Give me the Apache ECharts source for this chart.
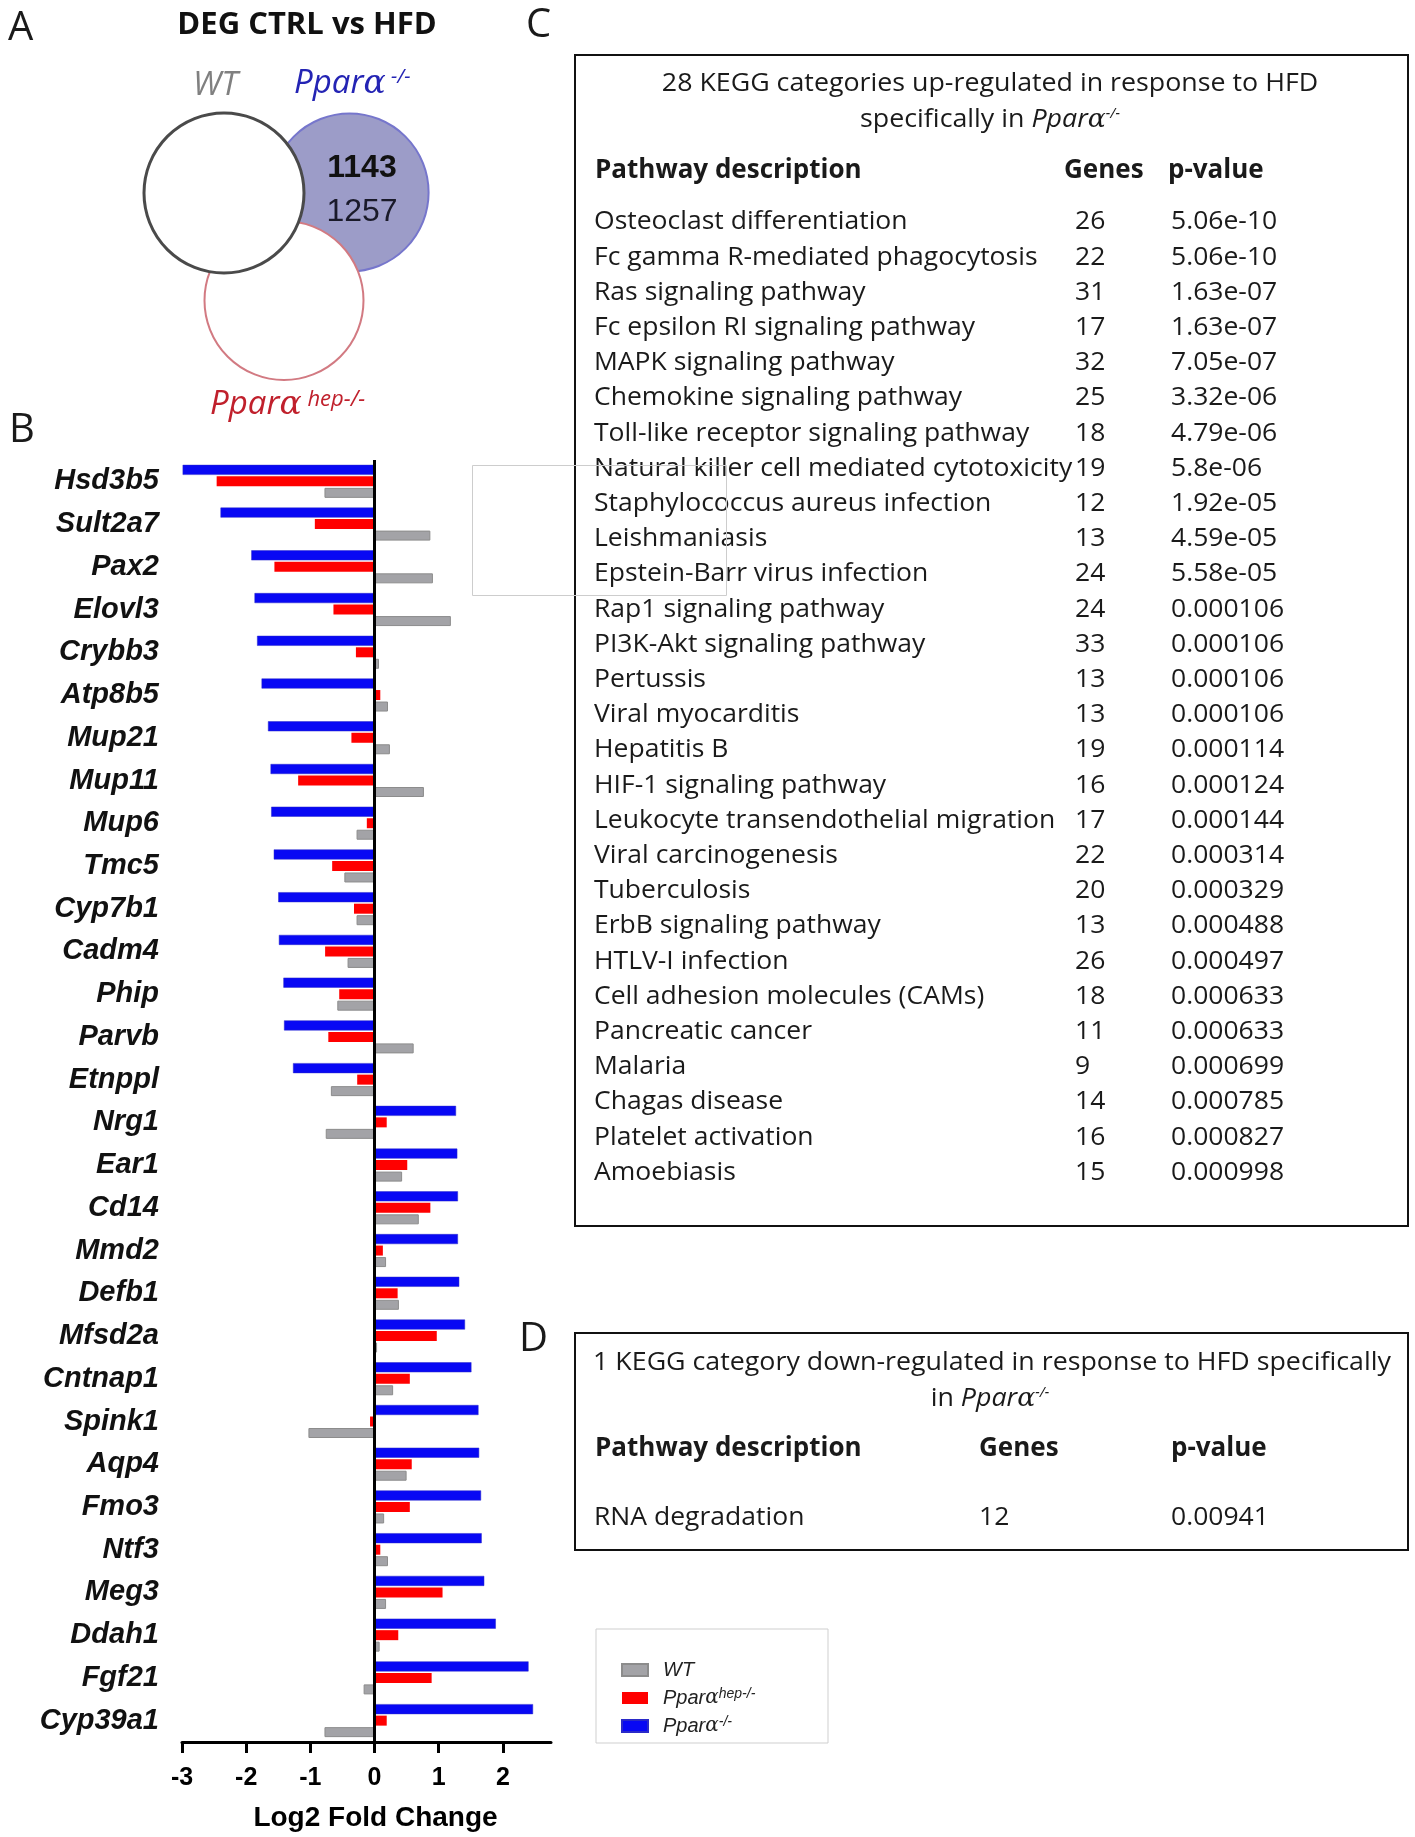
<!DOCTYPE html>
<html>
<head>
<meta charset="utf-8">
<script src="https://cdn.jsdelivr.net/npm/echarts@6/dist/echarts.min.js"></script>
<style>
html, body { margin: 0; padding: 0; background: #fff; }
#main { width: 1415px; height: 1837px; }
</style>
</head>
<body>
<div id="main"></div>
<script>
// panel B data (log2 fold change, CTRL vs HFD)
var genes = ['Hsd3b5','Sult2a7','Pax2','Elovl3','Crybb3','Atp8b5','Mup21','Mup11','Mup6','Tmc5',
  'Cyp7b1','Cadm4','Phip','Parvb','Etnppl','Nrg1','Ear1','Cd14','Mmd2','Defb1',
  'Mfsd2a','Cntnap1','Spink1','Aqp4','Fmo3','Ntf3','Meg3','Ddah1','Fgf21','Cyp39a1'];
var koFC = [-2.99,-2.40,-1.92,-1.87,-1.83,-1.76,-1.66,-1.62,-1.61,-1.57,
  -1.50,-1.49,-1.42,-1.41,-1.27,1.27,1.29,1.30,1.30,1.32,
  1.41,1.51,1.62,1.63,1.66,1.67,1.71,1.89,2.40,2.47];
var hepFC = [-2.46,-0.93,-1.56,-0.64,-0.29,0.09,-0.36,-1.19,-0.12,-0.66,
  -0.32,-0.77,-0.55,-0.72,-0.27,0.19,0.51,0.87,0.13,0.36,
  0.97,0.55,-0.07,0.58,0.55,0.09,1.06,0.37,0.89,0.19];
var wtFC = [-0.78,0.87,0.91,1.19,0.07,0.21,0.24,0.77,-0.28,-0.47,
  -0.28,-0.42,-0.58,0.61,-0.68,-0.76,0.43,0.69,0.18,0.38,
  0.04,0.29,-1.03,0.50,0.15,0.21,0.18,0.08,-0.17,-0.78];
var xTicks = [-3, -2, -1, 0, 1, 2];

// panel A
var vennCounts = [1143, 1257];

// panel C
var pathwaysUp = ['Osteoclast differentiation','Fc gamma R-mediated phagocytosis','Ras signaling pathway',
  'Fc epsilon RI signaling pathway','MAPK signaling pathway','Chemokine signaling pathway',
  'Toll-like receptor signaling pathway','Natural killer cell mediated cytotoxicity',
  'Staphylococcus aureus infection','Leishmaniasis','Epstein-Barr virus infection',
  'Rap1 signaling pathway','PI3K-Akt signaling pathway','Pertussis','Viral myocarditis',
  'Hepatitis B','HIF-1 signaling pathway','Leukocyte transendothelial migration',
  'Viral carcinogenesis','Tuberculosis','ErbB signaling pathway','HTLV-I infection',
  'Cell adhesion molecules (CAMs)','Pancreatic cancer','Malaria','Chagas disease',
  'Platelet activation','Amoebiasis'];
var genesUp = [26,22,31,17,32,25,18,19,12,13,24,24,33,13,13,19,16,17,22,20,13,26,18,11,9,14,16,15];
var pvalUp = ['5.06e-10','5.06e-10','1.63e-07','1.63e-07','7.05e-07','3.32e-06','4.79e-06','5.8e-06',
  '1.92e-05','4.59e-05','5.58e-05','0.000106','0.000106','0.000106','0.000106','0.000114',
  '0.000124','0.000144','0.000314','0.000329','0.000488','0.000497','0.000633','0.000633',
  '0.000699','0.000785','0.000827','0.000998'];

// panel D
var pathwaysDown = ['RNA degradation'];
var genesDown = [12];
var pvalDown = ['0.00941'];

var TF = '"Open Sans", "Noto Sans", sans-serif';
var AF = '"Liberation Sans", Arial, sans-serif';
var ink = '#1a1a1a';

function txt(x, y, text, o) {
  o = o || {};
  return {
    type: 'text', x: x, y: y, z: 50, scaleX: o.sx || 1,
    style: {
      text: text,
      fontSize: o.size || 26,
      fontFamily: o.family || TF,
      fontWeight: o.weight || 'normal',
      fontStyle: o.italic ? 'italic' : 'normal',
      fill: o.color || ink,
      align: o.align || 'left', textAlign: o.align || 'left',
      verticalAlign: 'middle', textVerticalAlign: 'middle',
      rich: o.rich
    }
  };
}

var supRich = function (size, color, supSize) {
  return {
    n: { fontSize: size, fontFamily: TF, fill: color, color: color },
    i: { fontSize: size, fontFamily: TF, fontStyle: 'italic', fill: color, color: color },
    a: { fontSize: size, fontFamily: '"DejaVu Serif", serif', fontStyle: 'italic', fill: color, color: color },
    s: { fontSize: supSize || Math.round(size * 0.55), fontFamily: TF, fontStyle: 'italic', fill: color, color: color, verticalAlign: 'top' }
  };
};

var graphics = [];
// panel letters
graphics.push(txt(8, 29, 'A', { size: 40 }));
graphics.push(txt(9, 431, 'B', { size: 40 }));
graphics.push(txt(526, 26, 'C', { size: 40 }));
graphics.push(txt(519, 1340, 'D', { size: 40 }));

// panel A venn
graphics.push(txt(307, 25, 'DEG CTRL vs HFD', { size: 31, weight: 'bold', align: 'center', color: '#111' }));
graphics.push({ type: 'circle', z: 20, shape: { cx: 349.6, cy: 192.5, r: 79 },
  style: { fill: '#9c9cc8', stroke: '#7676cc', lineWidth: 2 } });
graphics.push({ type: 'circle', z: 21, shape: { cx: 284, cy: 300.5, r: 79.5 },
  style: { fill: '#fff', stroke: '#d27a82', lineWidth: 2 } });
graphics.push({ type: 'circle', z: 22, shape: { cx: 224, cy: 193, r: 80 },
  style: { fill: '#fff', stroke: '#4a4a4a', lineWidth: 3 } });
graphics.push(txt(362, 168, String(vennCounts[0]), { size: 32, family: AF, weight: 'bold', align: 'center', color: '#111' }));
graphics.push(txt(362, 212, String(vennCounts[1]), { size: 32, family: AF, align: 'center', color: '#1a1a2a' }));
graphics.push(txt(193, 86, 'WT', { size: 33, italic: true, color: '#808080' }));
graphics.push(txt(294, 84, '{i|Ppar}{a|α}{s| -/-}', { rich: supRich(33, '#2424b4', 20) }));
graphics.push(txt(210, 405, '{i|Ppar}{a|α}{s| hep-/-}', { rich: supRich(33, '#c0202c', 22) }));

// panel C table
graphics.push({ type: 'rect', z: 30, shape: { x: 575, y: 55, width: 833, height: 1171 },
  style: { fill: 'none', stroke: '#111', lineWidth: 2 } });
graphics.push(txt(990, 84, '28 KEGG categories up-regulated in response to HFD', { align: 'center', sx: 1.03 }));
graphics.push(txt(990, 120, '{n|specifically in }{i|Ppar}{a|α}{s|-/-}', { align: 'center', sx: 1.03, rich: supRich(26, ink) }));
graphics.push(txt(595, 171, 'Pathway description', { weight: 'bold' }));
graphics.push(txt(1064, 171, 'Genes', { weight: 'bold' }));
graphics.push(txt(1168, 171, 'p-value', { weight: 'bold' }));
pathwaysUp.forEach(function (p, i) {
  var y = 222 + i * 35.2;
  graphics.push(txt(594, y, p, { sx: 1.02 }));
  graphics.push(txt(1075, y, String(genesUp[i]), { sx: 1.02 }));
  graphics.push(txt(1171, y, pvalUp[i], { sx: 1.02 }));
});

// panel D table
graphics.push({ type: 'rect', z: 30, shape: { x: 575, y: 1333, width: 833, height: 217 },
  style: { fill: 'none', stroke: '#111', lineWidth: 2 } });
graphics.push(txt(992, 1363, '1 KEGG category down-regulated in response to HFD specifically', { align: 'center', sx: 1.03 }));
graphics.push(txt(990, 1399, '{n|in }{i|Ppar}{a|α}{s|-/-}', { align: 'center', sx: 1.03, rich: supRich(26, ink) }));
graphics.push(txt(595, 1449, 'Pathway description', { weight: 'bold' }));
graphics.push(txt(979, 1449, 'Genes', { weight: 'bold' }));
graphics.push(txt(1171, 1449, 'p-value', { weight: 'bold' }));
pathwaysDown.forEach(function (p, i) {
  var y = 1518 + i * 35.2;
  graphics.push(txt(594, y, p, { sx: 1.02 }));
  graphics.push(txt(979, y, String(genesDown[i]), { sx: 1.02 }));
  graphics.push(txt(1171, y, pvalDown[i], { sx: 1.02 }));
});

// legend box and stray frame
graphics.push({ type: 'rect', z: 30, shape: { x: 596, y: 1629, width: 232, height: 114 },
  style: { fill: 'none', stroke: '#cfcfcf', lineWidth: 1 } });
graphics.push({ type: 'rect', z: 60, shape: { x: 472.5, y: 465.5, width: 254, height: 130 },
  style: { fill: 'none', stroke: '#cdcdcd', lineWidth: 1 } });

var legendRich = {
  i: { fontSize: 20, fontFamily: AF, fontStyle: 'italic', color: '#222' },
  a: { fontSize: 20, fontFamily: '"DejaVu Serif", serif', fontStyle: 'italic', color: '#222' },
  s: { fontSize: 14, fontFamily: AF, fontStyle: 'italic', color: '#222', verticalAlign: 'top' }
};

var chart = echarts.init(document.getElementById('main'));
chart.setOption({
  backgroundColor: '#fff',
  animation: false,
  graphic: graphics,
  legend: {
    orient: 'vertical', left: 621, top: 1659, padding: 0,
    itemWidth: 26, itemHeight: 12, itemGap: 6, icon: 'rect',
    data: ['WT', 'Pparα hep-/-', 'Pparα -/-'],
    formatter: function (name) {
      if (name === 'WT') return '{i|WT}';
      if (name === 'Pparα hep-/-') return '{i|Ppar}{a|α}{s|hep-/-}';
      return '{i|Ppar}{a|α}{s|-/-}';
    },
    textStyle: { fontSize: 20, lineHeight: 22, padding: [0, 0, 0, 10], rich: legendRich }
  },
  grid: { left: 182, top: 460, width: 369, height: 1287 },
  xAxis: {
    type: 'value', min: -3, max: 2.75, interval: 1,
    splitLine: { show: false },
    axisLine: { show: true, onZero: false, lineStyle: { color: '#000', width: 3 } },
    axisTick: { show: true, length: 11, customValues: xTicks, lineStyle: { color: '#000', width: 3 } },
    axisLabel: { customValues: xTicks, margin: 24, fontSize: 25, fontWeight: 'bold', fontFamily: AF, color: '#000' },
    name: 'Log2 Fold Change', nameLocation: 'middle', nameGap: 62,
    nameTextStyle: { fontSize: 28, fontWeight: 'bold', fontFamily: AF, color: '#000', padding: [0, 0, 0, 18] }
  },
  yAxis: {
    type: 'category', data: genes, inverse: true,
    axisLine: { show: false }, axisTick: { show: false },
    axisLabel: { interval: 0, margin: 23, fontSize: 29, fontWeight: 'bold', fontStyle: 'italic', fontFamily: AF, color: '#111' }
  },
  series: [
    {
      name: 'Pparα -/-', type: 'bar', data: koFC, barWidth: 10, barGap: '15%',
      itemStyle: { color: '#0808f4', borderColor: '#2a2ac8', borderWidth: 0.5 },
      markLine: {
        silent: true, symbol: 'none', label: { show: false },
        lineStyle: { color: '#000', width: 3, type: 'solid' },
        data: [{ xAxis: 0 }]
      }
    },
    {
      name: 'Pparα hep-/-', type: 'bar', data: hepFC, barWidth: 10, barGap: '15%',
      itemStyle: { color: '#ff0000' }
    },
    {
      name: 'WT', type: 'bar', data: wtFC, barWidth: 10, barGap: '15%',
      itemStyle: { color: '#a3a3a7', borderColor: '#8c8c8c', borderWidth: 1 }
    }
  ]
});
</script>
</body>
</html>
